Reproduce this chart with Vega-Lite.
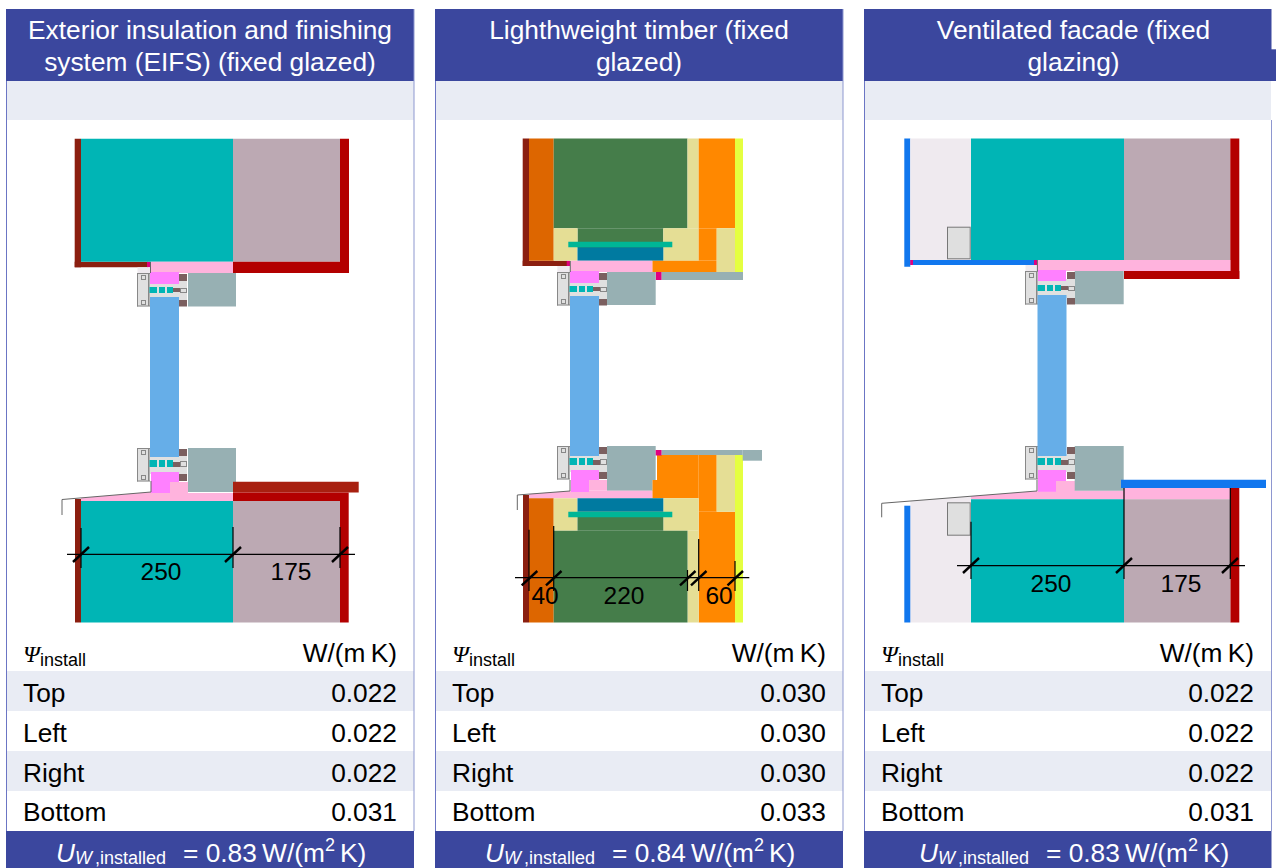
{"$schema":"https://vega.github.io/schema/vega-lite/v6.json","width":1276,"height":868,"padding":0,"autosize":{"type":"none"},"background":"white","config":{"view":{"stroke":null}},
"datasets":{
"slopes":[
{"s":"a","m":"pink","x":81,"y":498,"y2":501},{"s":"a","m":"pink","x":151,"y":492,"y2":501},
{"s":"b","m":"pink","x":529,"y":494,"y2":498.3},{"s":"b","m":"pink","x":570,"y":491,"y2":498.3},
{"s":"c","m":"lav","x":910.3,"y":501,"y2":530},{"s":"c","m":"lav","x":971,"y":496.3,"y2":530},
{"s":"d","m":"pink","x":971,"y":496.3,"y2":499.3},{"s":"d","m":"pink","x":1037,"y":491,"y2":499.3}],
"rects":[
{"x":6,"x2":414,"y":9,"y2":81,"m":"header"},{"x":6,"x2":414,"y":81,"y2":120,"m":"band"},{"x":6,"x2":414,"y":671,"y2":711,"m":"band"},{"x":6,"x2":414,"y":751,"y2":791,"m":"band"},{"x":6,"x2":414,"y":831,"y2":868,"m":"header"},{"x":6,"x2":7,"y":81,"y2":831,"m":"edgeL"},{"x":413.5,"x2":414.5,"y":9,"y2":831,"m":"edgeR"},
{"x":435,"x2":843,"y":9,"y2":81,"m":"header"},{"x":435,"x2":843,"y":81,"y2":120,"m":"band"},{"x":435,"x2":843,"y":671,"y2":711,"m":"band"},{"x":435,"x2":843,"y":751,"y2":791,"m":"band"},{"x":435,"x2":843,"y":831,"y2":868,"m":"header"},{"x":435,"x2":436,"y":81,"y2":831,"m":"edgeL"},{"x":842.5,"x2":843.5,"y":9,"y2":831,"m":"edgeR"},
{"x":864,"x2":1271.5,"y":9,"y2":81,"m":"header"},{"x":1271,"x2":1276,"y":49.3,"y2":81,"m":"header"},{"x":864,"x2":1271,"y":81,"y2":120,"m":"band"},{"x":864,"x2":1271.5,"y":671,"y2":711,"m":"band"},{"x":864,"x2":1271.5,"y":751,"y2":791,"m":"band"},{"x":864,"x2":1271.5,"y":831,"y2":868,"m":"header"},{"x":864,"x2":865,"y":81,"y2":831,"m":"edgeL"},{"x":1271,"x2":1272,"y":120,"y2":831,"m":"edgeR"},

{"x":74.7,"x2":81,"y":138.7,"y2":267.3,"m":"brick"},{"x":74.7,"x2":148,"y":261.7,"y2":267.3,"m":"brick"},{"x":147,"x2":150,"y":261.7,"y2":267.3,"m":"magenta"},{"x":81,"x2":233,"y":138.7,"y2":261.7,"m":"teal"},{"x":233,"x2":340,"y":138.7,"y2":261.7,"m":"taupe"},{"x":340,"x2":349,"y":138.7,"y2":273,"m":"red"},{"x":233,"x2":349,"y":261.7,"y2":273,"m":"red"},{"x":151,"x2":233,"y":261.7,"y2":273,"m":"pink"},{"x":137.5,"x2":150,"y":267.3,"y2":273,"m":"lav"},{"x":188,"x2":236,"y":273,"y2":306.5,"m":"seal"},
{"x":170,"x2":188,"y":482,"y2":493,"m":"pink"},{"x":151,"x2":233,"y":493,"y2":501,"m":"pink"},{"x":188,"x2":236,"y":448,"y2":492,"m":"seal"},{"x":233,"x2":358.7,"y":481.7,"y2":492.6,"m":"capping"},{"x":233,"x2":348.7,"y":492.6,"y2":501,"m":"red"},{"x":340,"x2":348.7,"y":501,"y2":622.5,"m":"red"},{"x":233,"x2":340,"y":501,"y2":622.5,"m":"taupe"},{"x":81,"x2":233,"y":501,"y2":622.5,"m":"teal"},{"x":75,"x2":81,"y":499,"y2":622.5,"m":"brick"},

{"x":522.7,"x2":529,"y":138.5,"y2":266,"m":"brick"},{"x":522.7,"x2":567,"y":260.7,"y2":266,"m":"brick"},{"x":566.7,"x2":570,"y":260.7,"y2":266,"m":"magenta"},{"x":529,"x2":553.7,"y":138.5,"y2":260.7,"m":"woodD"},{"x":553.7,"x2":687.5,"y":138.5,"y2":228.3,"m":"green"},{"x":577.5,"x2":663.3,"y":228.3,"y2":248,"m":"green"},{"x":553.7,"x2":577.5,"y":228.3,"y2":260.7,"m":"khaki"},{"x":663.3,"x2":698.7,"y":228.3,"y2":260.7,"m":"khaki"},{"x":687.5,"x2":698.7,"y":138.5,"y2":228.3,"m":"khaki"},{"x":577.5,"x2":663.3,"y":247.3,"y2":260.7,"m":"dblue"},{"x":568.3,"x2":672.3,"y":241.7,"y2":247.3,"m":"strip"},{"x":698.7,"x2":735,"y":138.5,"y2":228.3,"m":"orange"},{"x":698.7,"x2":716.7,"y":228.3,"y2":260.7,"m":"orange"},{"x":652.3,"x2":716.7,"y":260.7,"y2":272,"m":"orange"},{"x":716.7,"x2":735,"y":228.3,"y2":272,"m":"khaki"},{"x":735,"x2":743,"y":138.5,"y2":272,"m":"yellow"},{"x":570.7,"x2":652.3,"y":260.7,"y2":272,"m":"pink"},{"x":655.7,"x2":661.7,"y":272,"y2":280,"m":"magenta"},{"x":661.7,"x2":743,"y":272,"y2":280,"m":"seal"},{"x":607,"x2":655.7,"y":272,"y2":305,"m":"seal"},{"x":557.3,"x2":570,"y":266,"y2":272,"m":"lav"},
{"x":657,"x2":698.7,"y":455,"y2":498.3,"m":"orange"},{"x":652.3,"x2":657,"y":480,"y2":498.3,"m":"orange"},{"x":698.7,"x2":716.7,"y":455,"y2":511.7,"m":"orange"},{"x":698.7,"x2":735,"y":511.7,"y2":622.5,"m":"orange"},{"x":716.7,"x2":735,"y":455,"y2":511.7,"m":"khaki"},{"x":735,"x2":743,"y":455,"y2":622.5,"m":"yellow"},{"x":607,"x2":655.7,"y":446,"y2":480,"m":"seal"},{"x":607,"x2":652.3,"y":480,"y2":490.7,"m":"seal"},{"x":655.7,"x2":661.7,"y":450,"y2":455.5,"m":"magenta"},{"x":661.7,"x2":742.7,"y":450,"y2":455,"m":"seal"},{"x":742.7,"x2":762,"y":450,"y2":460.7,"m":"seal"},{"x":570,"x2":652.3,"y":490.7,"y2":498.3,"m":"pink"},{"x":589,"x2":607,"y":480,"y2":490.7,"m":"pink"},{"x":523,"x2":529,"y":495,"y2":622.5,"m":"brick"},{"x":529,"x2":553.7,"y":498.3,"y2":622.5,"m":"woodD"},{"x":553.7,"x2":577.5,"y":498.3,"y2":530.7,"m":"khaki"},{"x":663.3,"x2":698.7,"y":498.3,"y2":530.7,"m":"khaki"},{"x":687.5,"x2":698.7,"y":530.7,"y2":622.5,"m":"khaki"},{"x":577.5,"x2":663.3,"y":498.3,"y2":511.7,"m":"dblue"},{"x":577.5,"x2":663.3,"y":511.7,"y2":530.7,"m":"green"},{"x":568.3,"x2":672.3,"y":511.7,"y2":517.3,"m":"strip"},{"x":553.7,"x2":687.5,"y":530.7,"y2":622.5,"m":"green"},

{"x":904.3,"x2":910.3,"y":138.5,"y2":266.7,"m":"blue"},{"x":910.3,"x2":1036,"y":260,"y2":265,"m":"blue"},{"x":910.3,"x2":913,"y":260,"y2":265,"m":"magenta"},{"x":1034,"x2":1037,"y":260,"y2":265,"m":"magenta"},{"x":910.3,"x2":971,"y":138.5,"y2":260,"m":"lav"},{"x":947,"x2":970.7,"y":226.7,"y2":259.3,"m":"boxline"},{"x":948,"x2":969.7,"y":227.7,"y2":258.3,"m":"box"},{"x":971,"x2":1124,"y":138.5,"y2":260,"m":"teal"},{"x":1124,"x2":1230.3,"y":138.5,"y2":260,"m":"taupe"},{"x":1230.3,"x2":1239.3,"y":138.5,"y2":279,"m":"red"},{"x":1124,"x2":1239.3,"y":271,"y2":279,"m":"red"},{"x":1037.7,"x2":1230.3,"y":260,"y2":271,"m":"pink"},{"x":1025.5,"x2":1037.7,"y":265,"y2":271,"m":"lav"},{"x":1074.7,"x2":1123.7,"y":271,"y2":304.3,"m":"seal"},
{"x":1056,"x2":1075,"y":481,"y2":491,"m":"pink"},{"x":1037,"x2":1124,"y":490.7,"y2":499.3,"m":"pink"},{"x":1074.7,"x2":1123.7,"y":446,"y2":490.7,"m":"seal"},{"x":1124,"x2":1230.3,"y":488,"y2":499.3,"m":"pink"},{"x":1230.3,"x2":1239.3,"y":488,"y2":622.5,"m":"red"},{"x":1124,"x2":1230.3,"y":499.3,"y2":622.5,"m":"taupe"},{"x":971,"x2":1124,"y":499.3,"y2":622.5,"m":"teal"},{"x":910.3,"x2":971,"y":530,"y2":622.5,"m":"lav"},{"x":904.3,"x2":910.3,"y":505.7,"y2":622.5,"m":"blue"},{"x":947,"x2":970.7,"y":502.3,"y2":535.7,"m":"boxline"},{"x":948,"x2":969.7,"y":503.3,"y2":534.7,"m":"box"},{"x":1121,"x2":1266,"y":479.7,"y2":488,"m":"blue"},

{"x":137.5,"x2":150,"y":273,"y2":306.5,"m":"frame"},{"x":137,"x2":138,"y":273,"y2":306.5,"m":"line"},{"x":137,"x2":150,"y":273,"y2":274,"m":"line"},{"x":137,"x2":150,"y":305.5,"y2":306.5,"m":"line"},{"x":141,"x2":146,"y":275,"y2":280,"m":"line"},{"x":142,"x2":145,"y":276,"y2":279,"m":"frame"},{"x":141,"x2":146,"y":300,"y2":305,"m":"line"},{"x":142,"x2":145,"y":301,"y2":304,"m":"frame"},{"x":150,"x2":187,"y":281,"y2":300,"m":"frame"},{"x":148,"x2":149.5,"y":274,"y2":306,"m":"line"},{"x":149.5,"x2":173,"y":287,"y2":293,"m":"teal"},{"x":157,"x2":159,"y":284,"y2":297,"m":"frame"},{"x":165,"x2":167,"y":284,"y2":297,"m":"frame"},{"x":179,"x2":187,"y":274,"y2":281,"m":"brown"},{"x":179,"x2":187,"y":300,"y2":306.5,"m":"brown"},{"x":173,"x2":180,"y":288,"y2":292,"m":"brown"},{"x":180,"x2":187,"y":288,"y2":293,"m":"line"},{"x":181,"x2":186,"y":289,"y2":292,"m":"frame"},{"x":150,"x2":179,"y":272,"y2":284,"m":"fuchsia"},
{"x":137.5,"x2":150,"y":448,"y2":481.5,"m":"frame"},{"x":137,"x2":138,"y":448,"y2":481.5,"m":"line"},{"x":137,"x2":150,"y":448,"y2":449,"m":"line"},{"x":137,"x2":150,"y":480.5,"y2":481.5,"m":"line"},{"x":141,"x2":146,"y":450,"y2":455,"m":"line"},{"x":142,"x2":145,"y":451,"y2":454,"m":"frame"},{"x":141,"x2":146,"y":475,"y2":480,"m":"line"},{"x":142,"x2":145,"y":476,"y2":479,"m":"frame"},{"x":150,"x2":187,"y":456,"y2":474,"m":"frame"},{"x":148,"x2":149.5,"y":449,"y2":481,"m":"line"},{"x":149.5,"x2":173,"y":460,"y2":467,"m":"teal"},{"x":157,"x2":159,"y":457,"y2":472,"m":"frame"},{"x":165,"x2":167,"y":457,"y2":472,"m":"frame"},{"x":179,"x2":187,"y":449,"y2":456,"m":"brown"},{"x":179,"x2":187,"y":474,"y2":481,"m":"brown"},{"x":173,"x2":180,"y":462,"y2":467,"m":"brown"},{"x":180,"x2":187,"y":461,"y2":467,"m":"line"},{"x":181,"x2":186,"y":462,"y2":466,"m":"frame"},{"x":151,"x2":179,"y":472,"y2":482,"m":"fuchsia"},{"x":151,"x2":170,"y":482,"y2":493,"m":"fuchsia"},{"x":150,"x2":179,"y":297,"y2":457,"m":"glass"},

{"x":557.5,"x2":570,"y":272,"y2":305.5,"m":"frame"},{"x":557,"x2":558,"y":272,"y2":305.5,"m":"line"},{"x":557,"x2":570,"y":272,"y2":273,"m":"line"},{"x":557,"x2":570,"y":304.5,"y2":305.5,"m":"line"},{"x":561,"x2":566,"y":274,"y2":279,"m":"line"},{"x":562,"x2":565,"y":275,"y2":278,"m":"frame"},{"x":561,"x2":566,"y":299,"y2":304,"m":"line"},{"x":562,"x2":565,"y":300,"y2":303,"m":"frame"},{"x":570,"x2":607,"y":280,"y2":299,"m":"frame"},{"x":568,"x2":569.5,"y":273,"y2":305,"m":"line"},{"x":569.5,"x2":593,"y":286,"y2":292,"m":"teal"},{"x":577,"x2":579,"y":283,"y2":296,"m":"frame"},{"x":585,"x2":587,"y":283,"y2":296,"m":"frame"},{"x":599,"x2":607,"y":273,"y2":280,"m":"brown"},{"x":599,"x2":607,"y":299,"y2":305.5,"m":"brown"},{"x":593,"x2":600,"y":287,"y2":291,"m":"brown"},{"x":600,"x2":607,"y":287,"y2":292,"m":"line"},{"x":601,"x2":606,"y":288,"y2":291,"m":"frame"},{"x":570,"x2":599,"y":271,"y2":283,"m":"fuchsia"},
{"x":557.5,"x2":570,"y":446,"y2":479.5,"m":"frame"},{"x":557,"x2":558,"y":446,"y2":479.5,"m":"line"},{"x":557,"x2":570,"y":446,"y2":447,"m":"line"},{"x":557,"x2":570,"y":478.5,"y2":479.5,"m":"line"},{"x":561,"x2":566,"y":448,"y2":453,"m":"line"},{"x":562,"x2":565,"y":449,"y2":452,"m":"frame"},{"x":561,"x2":566,"y":473,"y2":478,"m":"line"},{"x":562,"x2":565,"y":474,"y2":477,"m":"frame"},{"x":570,"x2":607,"y":454,"y2":472,"m":"frame"},{"x":568,"x2":569.5,"y":447,"y2":479,"m":"line"},{"x":569.5,"x2":593,"y":458,"y2":465,"m":"teal"},{"x":577,"x2":579,"y":455,"y2":470,"m":"frame"},{"x":585,"x2":587,"y":455,"y2":470,"m":"frame"},{"x":599,"x2":607,"y":447,"y2":454,"m":"brown"},{"x":599,"x2":607,"y":472,"y2":479,"m":"brown"},{"x":593,"x2":600,"y":460,"y2":465,"m":"brown"},{"x":600,"x2":607,"y":459,"y2":465,"m":"line"},{"x":601,"x2":606,"y":460,"y2":464,"m":"frame"},{"x":571,"x2":599,"y":470,"y2":480,"m":"fuchsia"},{"x":571,"x2":589,"y":480,"y2":492,"m":"fuchsia"},{"x":570,"x2":599,"y":296,"y2":456,"m":"glass"},

{"x":1025.5,"x2":1038,"y":271,"y2":304.5,"m":"frame"},{"x":1025,"x2":1026,"y":271,"y2":304.5,"m":"line"},{"x":1025,"x2":1038,"y":271,"y2":272,"m":"line"},{"x":1025,"x2":1038,"y":303.5,"y2":304.5,"m":"line"},{"x":1029,"x2":1034,"y":273,"y2":278,"m":"line"},{"x":1030,"x2":1033,"y":274,"y2":277,"m":"frame"},{"x":1029,"x2":1034,"y":298,"y2":303,"m":"line"},{"x":1030,"x2":1033,"y":299,"y2":302,"m":"frame"},{"x":1038,"x2":1075,"y":279,"y2":298,"m":"frame"},{"x":1036,"x2":1037.5,"y":272,"y2":304,"m":"line"},{"x":1037.5,"x2":1061,"y":285,"y2":291,"m":"teal"},{"x":1045,"x2":1047,"y":282,"y2":295,"m":"frame"},{"x":1053,"x2":1055,"y":282,"y2":295,"m":"frame"},{"x":1067,"x2":1075,"y":272,"y2":279,"m":"brown"},{"x":1067,"x2":1075,"y":298,"y2":304.5,"m":"brown"},{"x":1061,"x2":1068,"y":286,"y2":290,"m":"brown"},{"x":1068,"x2":1075,"y":286,"y2":291,"m":"line"},{"x":1069,"x2":1074,"y":287,"y2":290,"m":"frame"},{"x":1038,"x2":1066,"y":270,"y2":281,"m":"fuchsia"},
{"x":1025.5,"x2":1038,"y":446,"y2":479.5,"m":"frame"},{"x":1025,"x2":1026,"y":446,"y2":479.5,"m":"line"},{"x":1025,"x2":1038,"y":446,"y2":447,"m":"line"},{"x":1025,"x2":1038,"y":478.5,"y2":479.5,"m":"line"},{"x":1029,"x2":1034,"y":448,"y2":453,"m":"line"},{"x":1030,"x2":1033,"y":449,"y2":452,"m":"frame"},{"x":1029,"x2":1034,"y":473,"y2":478,"m":"line"},{"x":1030,"x2":1033,"y":474,"y2":477,"m":"frame"},{"x":1038,"x2":1075,"y":454,"y2":472,"m":"frame"},{"x":1036,"x2":1037.5,"y":447,"y2":479,"m":"line"},{"x":1037.5,"x2":1061,"y":458,"y2":465,"m":"teal"},{"x":1045,"x2":1047,"y":455,"y2":470,"m":"frame"},{"x":1053,"x2":1055,"y":455,"y2":470,"m":"frame"},{"x":1067,"x2":1075,"y":447,"y2":454,"m":"brown"},{"x":1067,"x2":1075,"y":472,"y2":479,"m":"brown"},{"x":1061,"x2":1068,"y":460,"y2":465,"m":"brown"},{"x":1068,"x2":1075,"y":459,"y2":465,"m":"line"},{"x":1069,"x2":1074,"y":460,"y2":464,"m":"frame"},{"x":1038,"x2":1066,"y":470,"y2":481,"m":"fuchsia"},{"x":1038,"x2":1056,"y":481,"y2":491.7,"m":"fuchsia"},{"x":1037.5,"x2":1066.5,"y":295,"y2":456,"m":"glass"}],
"sills":[
{"x":62,"x2":62,"y":515,"y2":499.5},{"x":62,"x2":151,"y":499.5,"y2":492},{"x":151,"x2":151,"y":492,"y2":481},{"x":150.5,"x2":150.5,"y":262,"y2":273},
{"x":517.3,"x2":517.3,"y":510,"y2":495},{"x":517.3,"x2":570,"y":495,"y2":491},{"x":570,"x2":570,"y":491,"y2":480},{"x":570.3,"x2":570.3,"y":261,"y2":272},
{"x":881.7,"x2":881.7,"y":517.3,"y2":503.3},{"x":881.7,"x2":1037,"y":503.3,"y2":491},{"x":1037,"x2":1037,"y":491,"y2":480},{"x":1037.4,"x2":1037.4,"y":260,"y2":271}],
"dims":[
{"x":67,"x2":355,"y":554.3,"y2":554.3},{"x":81,"x2":81,"y":528,"y2":568},{"x":233,"x2":233,"y":527,"y2":568},{"x":340,"x2":340,"y":527,"y2":568},
{"x":515,"x2":749.3,"y":577.7,"y2":577.7},{"x":529,"x2":529,"y":529.7,"y2":591},{"x":553.7,"x2":553.7,"y":526,"y2":591},{"x":687.5,"x2":687.5,"y":570,"y2":591},{"x":698.7,"x2":698.7,"y":539,"y2":591},{"x":735,"x2":735,"y":561,"y2":591},
{"x":957,"x2":1245,"y":565.7,"y2":565.7},{"x":971,"x2":971,"y":521.7,"y2":579},{"x":1124,"x2":1124,"y":488,"y2":579},{"x":1230.3,"x2":1230.3,"y":488,"y2":579}],
"slashes":[
{"x":73,"x2":89,"y":562,"y2":547},{"x":225,"x2":241,"y":562,"y2":547},{"x":332,"x2":348,"y":562,"y2":547},
{"x":521.7,"x2":537.3,"y":585.3,"y2":571},{"x":546,"x2":561.5,"y":585.3,"y2":571},{"x":680,"x2":695.5,"y":585.3,"y2":571},{"x":691,"x2":706.5,"y":585.3,"y2":571},{"x":727.5,"x2":743,"y":585.3,"y2":571},
{"x":963,"x2":979,"y":573,"y2":558},{"x":1116,"x2":1132,"y":573,"y2":558},{"x":1222,"x2":1238,"y":573,"y2":558}],
"titles":[
{"x":210,"y":39,"t":"Exterior insulation and finishing"},{"x":210,"y":71,"t":"system (EIFS) (fixed glazed)"},
{"x":639,"y":39,"t":"Lighthweight timber (fixed"},{"x":639,"y":71,"t":"glazed)"},
{"x":1073.5,"y":39,"t":"Ventilated facade (fixed"},{"x":1073.5,"y":71,"t":"glazing)"}],
"labels":[
{"x":23,"y":701.7,"t":"Top"},{"x":23,"y":741.7,"t":"Left"},{"x":23,"y":781.7,"t":"Right"},{"x":23,"y":820.7,"t":"Bottom"},
{"x":452,"y":701.7,"t":"Top"},{"x":452,"y":741.7,"t":"Left"},{"x":452,"y":781.7,"t":"Right"},{"x":452,"y":820.7,"t":"Bottom"},
{"x":881,"y":701.7,"t":"Top"},{"x":881,"y":741.7,"t":"Left"},{"x":881,"y":781.7,"t":"Right"},{"x":881,"y":820.7,"t":"Bottom"}],
"values":[
{"x":397,"y":662,"t":"W/(m\u2009K)"},{"x":397,"y":701.7,"t":"0.022"},{"x":397,"y":741.7,"t":"0.022"},{"x":397,"y":781.7,"t":"0.022"},{"x":397,"y":820.7,"t":"0.031"},
{"x":826,"y":662,"t":"W/(m\u2009K)"},{"x":826,"y":701.7,"t":"0.030"},{"x":826,"y":741.7,"t":"0.030"},{"x":826,"y":781.7,"t":"0.030"},{"x":826,"y":820.7,"t":"0.033"},
{"x":1254,"y":662,"t":"W/(m\u2009K)"},{"x":1254,"y":701.7,"t":"0.022"},{"x":1254,"y":741.7,"t":"0.022"},{"x":1254,"y":781.7,"t":"0.022"},{"x":1254,"y":820.7,"t":"0.031"}],
"dimtext":[
{"x":161,"y":580,"t":"250"},{"x":291,"y":580,"t":"175"},
{"x":545,"y":604,"t":"40"},{"x":624,"y":604,"t":"220"},{"x":719,"y":604,"t":"60"},
{"x":1051,"y":592,"t":"250"},{"x":1181,"y":592,"t":"175"}],
"psi":[{"x":23,"y":662,"t":"Ψ"},{"x":452,"y":662,"t":"Ψ"},{"x":881,"y":662,"t":"Ψ"}],
"install":[{"x":40,"y":666,"t":"install"},{"x":469,"y":666,"t":"install"},{"x":898,"y":666,"t":"install"}],
"u":[{"x":56,"y":862,"t":"U"},{"x":485,"y":862,"t":"U"},{"x":919,"y":862,"t":"U"}],
"w":[{"x":75,"y":864,"t":"W"},{"x":504,"y":864,"t":"W"},{"x":938,"y":864,"t":"W"}],
"sub":[{"x":95,"y":864,"t":",installed"},{"x":524,"y":864,"t":",installed"},{"x":958,"y":864,"t":",installed"}],
"eq":[{"x":183,"y":862,"t":"= 0.83\u2009W/(m"},{"x":612,"y":862,"t":"= 0.84\u2009W/(m"},{"x":1046,"y":862,"t":"= 0.83\u2009W/(m"}],
"sup":[{"x":325,"y":851,"t":"2"},{"x":754,"y":851,"t":"2"},{"x":1188,"y":851,"t":"2"}],
"k":[{"x":340,"y":862,"t":"K)"},{"x":769,"y":862,"t":"K)"},{"x":1203,"y":862,"t":"K)"}]
},
"encoding":{"x":{"field":"x","type":"quantitative","axis":null,"scale":{"domain":[0,1276],"nice":false,"zero":false}},"y":{"field":"y","type":"quantitative","axis":null,"scale":{"domain":[0,868],"nice":false,"zero":false,"reverse":true}}},
"layer":[
{"data":{"name":"slopes"},"mark":{"type":"area","orient":"vertical"},"encoding":{"y2":{"field":"y2"},"detail":{"field":"s"},"color":{"field":"m","type":"nominal","legend":null,"scale":{"domain":["header","band","edgeL","edgeR","teal","taupe","red","brick","capping","pink","fuchsia","glass","seal","frame","brown","magenta","line","woodD","green","khaki","strip","dblue","orange","yellow","blue","lav","box","boxline"],"range":["#3B479E","#E9ECF4","#6B75C4","#8E97D0","#00B5B5","#BCA9B3","#B30000","#8B1F10","#A82010","#FFB3DD","#FF80FF","#66AEE8","#97B0B3","#E0E0E0","#7B5F5F","#E0007F","#888888","#DD6600","#457D4A","#E5DE95","#00B696","#007AA0","#FF8800","#E5FF40","#1177EE","#EFEAEF","#DFDFDF","#777777"]}}}},
{"data":{"name":"rects"},"mark":{"type":"rect"},"encoding":{"x2":{"field":"x2"},"y2":{"field":"y2"},"color":{"field":"m","type":"nominal","legend":null}}},
{"data":{"name":"sills"},"mark":{"type":"rule","color":"#666666","strokeWidth":1},"encoding":{"x2":{"field":"x2"},"y2":{"field":"y2"}}},
{"data":{"name":"dims"},"mark":{"type":"rule","color":"#000000","strokeWidth":1.2},"encoding":{"x2":{"field":"x2"},"y2":{"field":"y2"}}},
{"data":{"name":"slashes"},"mark":{"type":"rule","color":"#000000","strokeWidth":2.4},"encoding":{"x2":{"field":"x2"},"y2":{"field":"y2"}}},
{"data":{"name":"titles"},"mark":{"type":"text","align":"center","baseline":"alphabetic","font":"Liberation Sans","fontSize":26.3,"fill":"#FFFFFF"},"encoding":{"text":{"field":"t"}}},
{"data":{"name":"labels"},"mark":{"type":"text","align":"left","baseline":"alphabetic","font":"Liberation Sans","fontSize":26.3,"fill":"#000000"},"encoding":{"text":{"field":"t"}}},
{"data":{"name":"values"},"mark":{"type":"text","align":"right","baseline":"alphabetic","font":"Liberation Sans","fontSize":26.3,"fill":"#000000"},"encoding":{"text":{"field":"t"}}},
{"data":{"name":"dimtext"},"mark":{"type":"text","align":"center","baseline":"alphabetic","font":"Liberation Sans","fontSize":24.5,"fill":"#000000"},"encoding":{"text":{"field":"t"}}},
{"data":{"name":"psi"},"mark":{"type":"text","align":"left","baseline":"alphabetic","font":"Liberation Serif","fontStyle":"italic","fontSize":24,"fill":"#000000"},"encoding":{"text":{"field":"t"}}},
{"data":{"name":"install"},"mark":{"type":"text","align":"left","baseline":"alphabetic","font":"Liberation Sans","fontSize":18,"fill":"#000000"},"encoding":{"text":{"field":"t"}}},
{"data":{"name":"u"},"mark":{"type":"text","align":"left","baseline":"alphabetic","font":"Liberation Sans","fontStyle":"italic","fontSize":26.3,"fill":"#FFFFFF"},"encoding":{"text":{"field":"t"}}},
{"data":{"name":"w"},"mark":{"type":"text","align":"left","baseline":"alphabetic","font":"Liberation Sans","fontStyle":"italic","fontSize":18,"fill":"#FFFFFF"},"encoding":{"text":{"field":"t"}}},
{"data":{"name":"sub"},"mark":{"type":"text","align":"left","baseline":"alphabetic","font":"Liberation Sans","fontSize":18,"fill":"#FFFFFF"},"encoding":{"text":{"field":"t"}}},
{"data":{"name":"eq"},"mark":{"type":"text","align":"left","baseline":"alphabetic","font":"Liberation Sans","fontSize":26.3,"fill":"#FFFFFF"},"encoding":{"text":{"field":"t"}}},
{"data":{"name":"sup"},"mark":{"type":"text","align":"left","baseline":"alphabetic","font":"Liberation Sans","fontSize":18,"fill":"#FFFFFF"},"encoding":{"text":{"field":"t"}}},
{"data":{"name":"k"},"mark":{"type":"text","align":"left","baseline":"alphabetic","font":"Liberation Sans","fontSize":26.3,"fill":"#FFFFFF"},"encoding":{"text":{"field":"t"}}}
]}
